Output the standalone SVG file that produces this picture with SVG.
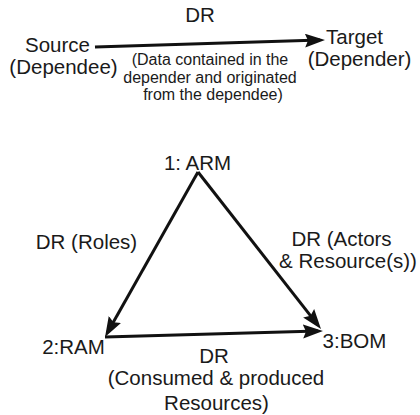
<svg xmlns="http://www.w3.org/2000/svg" width="420" height="415" viewBox="0 0 420 415">
<defs>
<style>
text{font-family:"Liberation Sans",Arial,sans-serif;fill:#1a1a1a;text-anchor:middle}
.big{font-size:20.5px}
.small{font-size:16px}
.conn{stroke:#111;stroke-width:3;fill:none;marker-end:url(#ah)}
</style>
<marker id="ah" markerUnits="userSpaceOnUse" markerWidth="22" markerHeight="16" refX="15" refY="7" orient="auto">
<path d="M0,0 L20,7 L0,14 L3,7 z" fill="#111"/>
</marker>
</defs>
<rect width="420" height="415" fill="#fff"/>
<g id="connectors">
<line class="conn" x1="95" y1="47" x2="320" y2="40.1"/>
<line class="conn" x1="198" y1="172" x2="107.5" y2="332.6"/>
<line class="conn" x1="198" y1="172" x2="317.9" y2="325.1"/>
<line class="conn" x1="105" y1="337" x2="318" y2="331.1"/>
</g>
<g id="legend-labels">
<text class="big" x="200" y="22">DR</text>
<text class="small" x="210" y="65">(Data contained in the</text>
<text class="small" x="210" y="83">depender and originated</text>
<text class="small" x="213" y="100">from the dependee)</text>
</g>
<g id="source">
<text class="big" x="57.5" y="52">Source</text>
<text class="big" x="63.5" y="74">(Dependee)</text>
</g>
<g id="target">
<text class="big" x="354.5" y="44">Target</text>
<text class="big" x="359.5" y="66">(Depender)</text>
</g>
<g id="arm"><text class="big" x="197.5" y="170">1: ARM</text></g>
<g id="ram"><text class="big" x="73.5" y="354">2:RAM</text></g>
<g id="bom"><text class="big" x="354.5" y="348">3:BOM</text></g>
<g id="edge-labels">
<text class="big" x="86.5" y="249">DR (Roles)</text>
<text class="big" x="341.5" y="246">DR (Actors</text>
<text class="big" x="348" y="268">&amp; Resource(s))</text>
<text class="big" x="214" y="363">DR</text>
<text class="big" x="216" y="385">(Consumed &amp; produced</text>
<text class="big" x="216.5" y="410">Resources)</text>
</g>
</svg>
